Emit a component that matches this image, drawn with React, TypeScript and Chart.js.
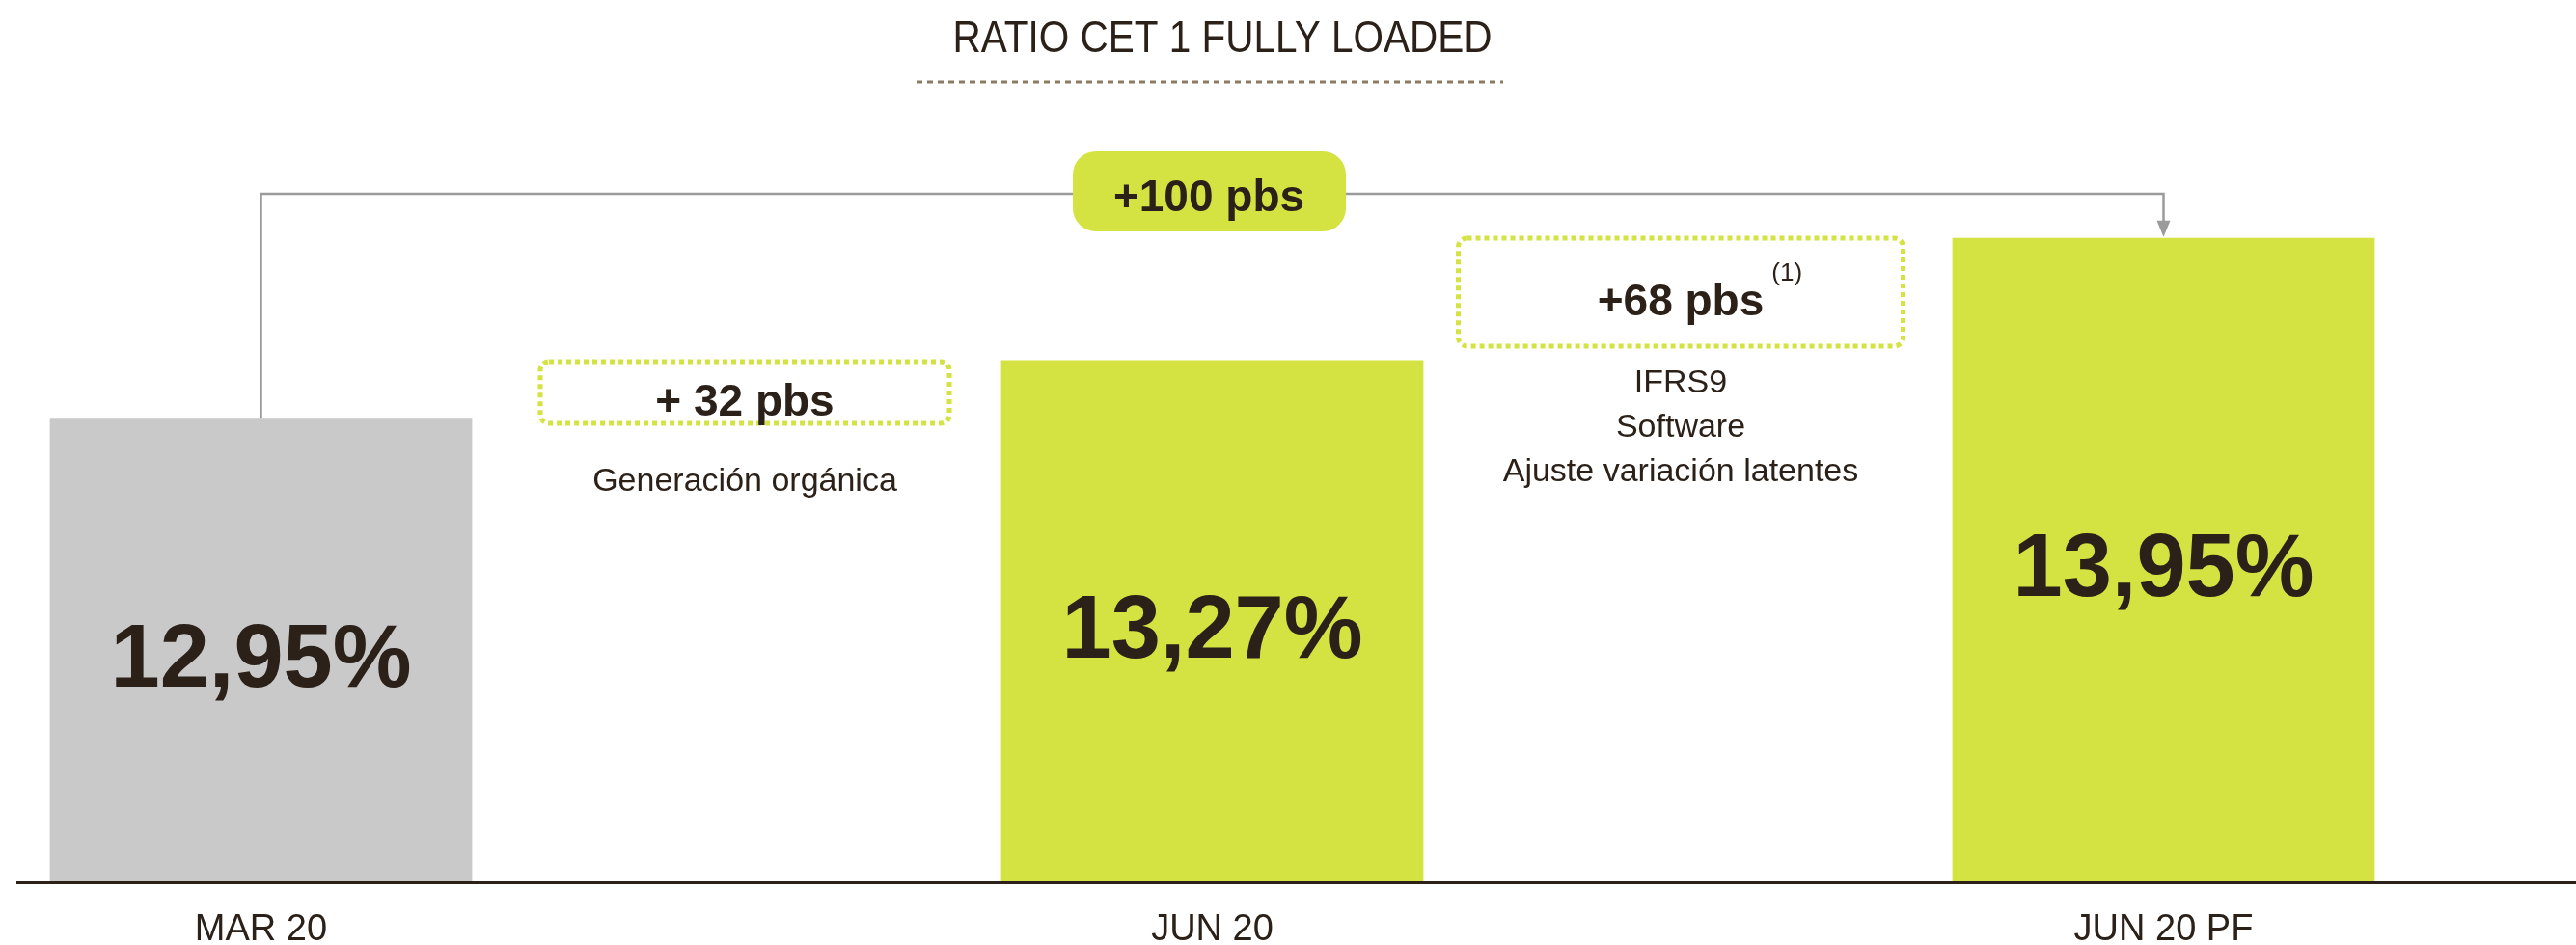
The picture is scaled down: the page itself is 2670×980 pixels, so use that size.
import React, { useEffect, useRef } from "react";
import { Chart, registerables } from "chart.js";

Chart.register(...registerables);

// ---- data ----
const categories = ["MAR 20", "JUN 20", "JUN 20 PF"];
const ratioValues = [12.95, 13.27, 13.95];
const valueLabels = ["12,95%", "13,27%", "13,95%"];
const barColors = ["#c9c9c9", "#d4e342", "#d4e342"];
const stepLabels = ["+ 32 pbs", "+68 pbs"];
const stepNotes = [["Generación orgánica"], ["IFRS9", "Software", "Ajuste variación latentes"]];
const stepFootnote = "(1)";
const totalLabel = "+100 pbs";
const chartTitle = "RATIO CET 1 FULLY LOADED";

// slots: bar, gap, bar, gap, bar
const slotLabels: string[] = [];
const slotValues: (number | null)[] = [];
const slotColors: string[] = [];
categories.forEach((c, i) => {
  if (i > 0) {
    slotLabels.push("");
    slotValues.push(null);
    slotColors.push("rgba(0,0,0,0)");
  }
  slotLabels.push(c);
  slotValues.push(ratioValues[i]);
  slotColors.push(barColors[i]);
});

const DARK = "#2b2118";
const GREEN = "#d4e342";
const SANS = "'Liberation Sans', Arial, sans-serif";

const decoPlugin = {
  id: "deco",
  afterDraw(chart: any) {
    const ctx = chart.ctx as CanvasRenderingContext2D;
    const xs = chart.scales.x;
    const ys = chart.scales.y;
    const bottom = chart.chartArea.bottom;
    ctx.save();

    // baseline
    ctx.strokeStyle = DARK;
    ctx.lineWidth = 3;
    ctx.beginPath();
    ctx.moveTo(17, bottom + 0.5);
    ctx.lineTo(2670, bottom + 0.5);
    ctx.stroke();

    // title (condensed look)
    ctx.fillStyle = DARK;
    ctx.font = `47px ${SANS}`;
    ctx.textAlign = "center";
    ctx.textBaseline = "middle";
    const tw = ctx.measureText(chartTitle).width;
    const sx = 559 / tw;
    ctx.save();
    ctx.translate(1267, 41);
    ctx.scale(sx, 1);
    ctx.fillText(chartTitle, 0, 0);
    ctx.restore();

    // dotted rule under title
    ctx.strokeStyle = "#8b7b63";
    ctx.lineWidth = 3;
    ctx.setLineDash([6, 5]);
    ctx.beginPath();
    ctx.moveTo(950, 85);
    ctx.lineTo(1558, 85);
    ctx.stroke();
    ctx.setLineDash([]);

    // bar geometry from scales
    const bars: { x: number; y: number }[] = [];
    slotValues.forEach((v, idx) => {
      if (v == null) return;
      bars.push({ x: xs.getPixelForValue(idx), y: ys.getPixelForValue(v) });
    });

    // bracket with arrow
    const b0 = bars[0];
    const b2 = bars[bars.length - 1];
    const yTop = 201;
    ctx.strokeStyle = "#9a9a9a";
    ctx.lineWidth = 2.5;
    ctx.beginPath();
    ctx.moveTo(b0.x, b0.y);
    ctx.lineTo(b0.x, yTop);
    ctx.lineTo(b2.x, yTop);
    ctx.lineTo(b2.x, b2.y - 14);
    ctx.stroke();
    ctx.fillStyle = "#9a9a9a";
    ctx.beginPath();
    ctx.moveTo(b2.x - 7, b2.y - 18);
    ctx.lineTo(b2.x + 7, b2.y - 18);
    ctx.lineTo(b2.x, b2.y - 1);
    ctx.closePath();
    ctx.fill();

    // total box
    const cx = 1253;
    ctx.fillStyle = GREEN;
    ctx.beginPath();
    (ctx as any).roundRect(cx - 141, 157, 283, 83, 24);
    ctx.fill();
    ctx.fillStyle = DARK;
    ctx.font = `bold 46px ${SANS}`;
    ctx.textAlign = "center";
    ctx.fillText(totalLabel, cx, 206);

    // step boxes
    const boxes = [
      { cx: 772, w: 424, top: 375, h: 64, textY: 418, notesY: [500] },
      { cx: 1742, w: 461, top: 247, h: 112, textY: 314, notesY: [398, 444, 490] },
    ];
    boxes.forEach((bx, i) => {
      const x = bx.cx;
      ctx.strokeStyle = GREEN;
      ctx.lineWidth = 5;
      ctx.setLineDash([5, 4]);
      ctx.beginPath();
      (ctx as any).roundRect(x - bx.w / 2, bx.top, bx.w, bx.h, 9);
      ctx.stroke();
      ctx.setLineDash([]);
      ctx.fillStyle = DARK;
      ctx.font = `bold 46px ${SANS}`;
      ctx.textAlign = "center";
      ctx.fillText(stepLabels[i], x, bx.textY);
      if (i === 1) {
        const w = ctx.measureText(stepLabels[i]).width;
        ctx.font = `26px ${SANS}`;
        ctx.textAlign = "left";
        ctx.fillText(stepFootnote, x + w / 2 + 8, bx.textY - 30);
        ctx.textAlign = "center";
      }
      ctx.font = `34px ${SANS}`;
      stepNotes[i].forEach((t, j) => ctx.fillText(t, x, bx.notesY[j]));
    });

    // value labels in bars
    ctx.font = `bold 92px ${SANS}`;
    ctx.fillStyle = DARK;
    ctx.textAlign = "center";
    ctx.textBaseline = "middle";
    bars.forEach((b, k) => {
      ctx.fillText(valueLabels[k], b.x, (b.y + bottom) / 2 + 12);
    });

    ctx.restore();
  },
};

export default function App() {
  const ref = useRef<HTMLCanvasElement | null>(null);
  useEffect(() => {
    document.body.style.margin = "0";
    const chart = new Chart(ref.current as HTMLCanvasElement, {
      type: "bar",
      data: {
        labels: slotLabels,
        datasets: [
          {
            data: slotValues as any,
            backgroundColor: slotColors,
            borderWidth: 0,
            barPercentage: 0.888,
            categoryPercentage: 1,
          },
        ],
      },
      options: {
        responsive: false,
        animation: false,
        events: [],
        layout: { padding: { left: 24, right: 181, top: 200, bottom: 0 } },
        plugins: {
          legend: { display: false },
          tooltip: { enabled: false },
        },
        scales: {
          x: {
            grid: { display: false, drawTicks: false },
            border: { display: false },
            ticks: {
              color: DARK,
              font: { family: SANS, size: 38 },
              padding: 27,
              maxRotation: 0,
              autoSkip: false,
            },
            afterFit: (s: any) => {
              s.height = 65;
            },
          },
          y: { display: false, min: 10.37, max: 14.2 },
        },
      } as any,
      plugins: [decoPlugin],
    });
    return () => chart.destroy();
  }, []);
  return (
    <div style={{ position: "absolute", left: 0, top: 0, width: 2670, height: 980, background: "#fff" }}>
      <canvas ref={ref} width={2670} height={980} style={{ display: "block" }} />
    </div>
  );
}
